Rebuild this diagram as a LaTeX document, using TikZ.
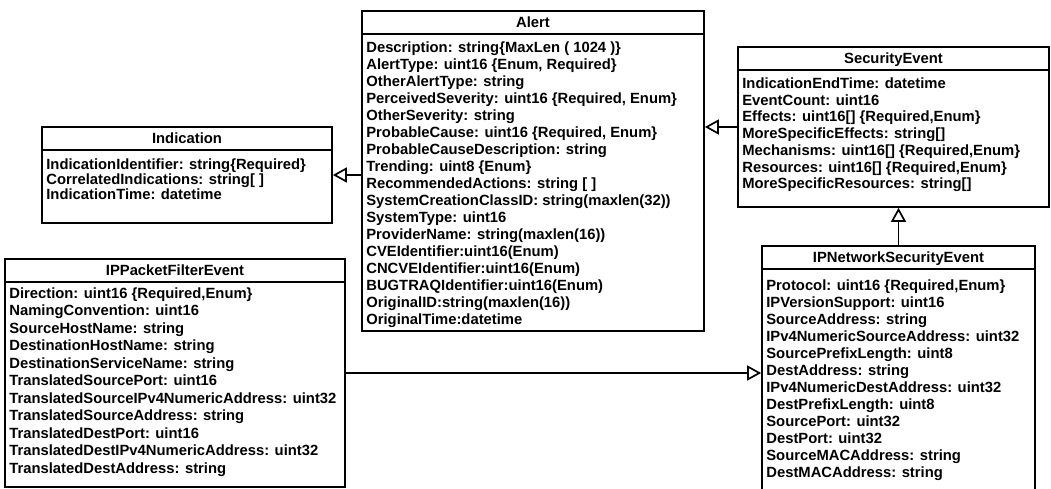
\documentclass[tikz,border=0pt]{standalone}
\usepackage{fontspec}
\setmainfont{Liberation Sans}
\usepackage{tikz}
\usetikzlibrary{calc, arrows.meta, positioning}

\tikzset{
    classbox/.style={draw, line width=1.7pt, inner sep=0pt},
    classtitle/.style={font=\bfseries\fontsize{14.8}{17}\selectfont, inner sep=0pt, anchor=base},
    classattrs/.style={font=\bfseries\fontsize{14.8}{17}\selectfont, align=left, inner sep=0pt, anchor=north west},
    inherit/.style={line width=1.7pt, -{Triangle[open, length=14pt, width=15pt]}}
}

\begin{document}
\begin{tikzpicture}[x=1pt, y=-1pt]
    \useasboundingbox (0,0) rectangle (1051,489);

    % 1. Indication
    \node[classbox, minimum width=290, minimum height=96] (indication) at (187,175) {};
    \draw[line width=1.7pt] ($(indication.north west)+(0,24)$) -- ($(indication.north east)+(0,24)$);
    \node[classtitle] (indicationtitle) at ($(indication.north)+(0,17.5)$) {Indication};
    \node[classattrs, font=\bfseries\fontsize{14.8}{15}\selectfont] (indicationattrs) at ($(indication.north west)+(5,32)$) {%
        IndicationIdentifier: string\{Required\}\\
        CorrelatedIndications: string[ ]\\
        IndicationTime: datetime};

    % 2. Alert
    \node[classbox, minimum width=342, minimum height=320] (alert) at (533,171) {};
    \draw[line width=1.7pt] ($(alert.north west)+(0,24)$) -- ($(alert.north east)+(0,24)$);
    \node[classtitle] (alerttitle) at ($(alert.north)+(0,17.5)$) {Alert};
    \node[classattrs] (alertattrs) at ($(alert.north west)+(5,31)$) {%
        Description: string\{MaxLen ( 1024 )\}\\
        AlertType: uint16 \{Enum, Required\}\\
        OtherAlertType: string\\
        PerceivedSeverity: uint16 \{Required, Enum\}\\
        OtherSeverity: string\\
        ProbableCause: uint16 \{Required, Enum\}\\
        ProbableCauseDescription: string\\
        Trending: uint8 \{Enum\}\\
        RecommendedActions: string [ ]\\
        SystemCreationClassID: string(maxlen(32))\\
        SystemType: uint16\\
        ProviderName: string(maxlen(16))\\
        CVEIdentifier:uint16(Enum)\\
        CNCVEIdentifier:uint16(Enum)\\
        BUGTRAQIdentifier:uint16(Enum)\\
        OriginalID:string(maxlen(16))\\
        OriginalTime:datetime};

    % 3. SecurityEvent
    \node[classbox, minimum width=311, minimum height=160] (secevent) at (893.5,127) {};
    \draw[line width=1.7pt] ($(secevent.north west)+(0,24)$) -- ($(secevent.north east)+(0,24)$);
    \node[classtitle] (seceventtitle) at ($(secevent.north)+(0,17.5)$) {SecurityEvent};
    \node[classattrs, font=\bfseries\fontsize{14.8}{16.7}\selectfont] (seceventattrs) at ($(secevent.north west)+(5,31.5)$) {%
        IndicationEndTime: datetime\\
        EventCount: uint16\\
        Effects: uint16[] \{Required,Enum\}\\
        MoreSpecificEffects: string[]\\
        Mechanisms: uint16[] \{Required,Enum\}\\
        Resources: uint16[] \{Required,Enum\}\\
        MoreSpecificResources: string[]};

    % 4. IPPacketFilterEvent
    \node[classbox, minimum width=340, minimum height=228] (ippf) at (175,373) {};
    \draw[line width=1.7pt] ($(ippf.north west)+(0,24)$) -- ($(ippf.north east)+(0,24)$);
    \node[classtitle] (ippftitle) at ($(ippf.north)+(0,17.5)$) {IPPacketFilterEvent};
    \node[classattrs, font=\bfseries\fontsize{14.8}{17.5}\selectfont] (ippfattrs) at ($(ippf.north west)+(5,29)$) {%
        Direction: uint16 \{Required,Enum\}\\
        NamingConvention: uint16\\
        SourceHostName: string\\
        DestinationHostName: string\\
        DestinationServiceName: string\\
        TranslatedSourcePort: uint16\\
        TranslatedSourceIPv4NumericAddress: uint32\\
        TranslatedSourceAddress: string\\
        TranslatedDestPort: uint16\\
        TranslatedDestIPv4NumericAddress: uint32\\
        TranslatedDestAddress: string};

    % 5. IPNetworkSecurityEvent (cut off at the bottom)
    \node[classbox, minimum width=273, minimum height=248] (ipnet) at (898.5,370) {};
    \draw[line width=1.7pt] ($(ipnet.north west)+(0,24)$) -- ($(ipnet.north east)+(0,24)$);
    \node[classtitle] (ipnettitle) at ($(ipnet.north)+(0,17.5)$) {IPNetworkSecurityEvent};
    \node[classattrs] (ipnetattrs) at ($(ipnet.north west)+(5,34)$) {%
        Protocol: uint16 \{Required,Enum\}\\
        IPVersionSupport: uint16\\
        SourceAddress: string\\
        IPv4NumericSourceAddress: uint32\\
        SourcePrefixLength: uint8\\
        DestAddress: string\\
        IPv4NumericDestAddress: uint32\\
        DestPrefixLength: uint8\\
        SourcePort: uint32\\
        DestPort: uint32\\
        SourceMACAddress: string\\
        DestMACAddress: string};

    % 6. Generalisations
    \draw[inherit] (alert.west |- indication.east) -- (indication.east);
    \draw[inherit] (secevent.west) -- (secevent.west -| alert.east);
    \draw[inherit] (ipnet.north) -- (ipnet.north |- secevent.south);
    \draw[inherit] (ippf.east) -- (ippf.east -| ipnet.west);

\end{tikzpicture}
\end{document}
